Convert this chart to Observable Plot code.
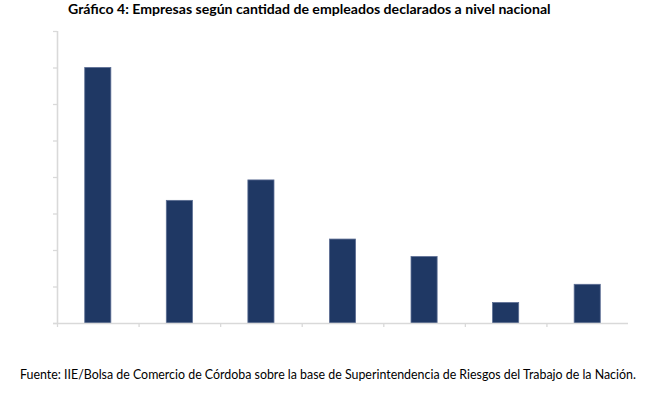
<!DOCTYPE html>
<html>
<head>
<meta charset="utf-8">
<script src="https://cdn.jsdelivr.net/npm/d3@7"></script>
<script src="https://cdn.jsdelivr.net/npm/@observablehq/plot@0.6"></script>
<style>
  body { margin: 0; background: #fff; width: 665px; height: 396px; overflow: hidden; }
  #title { height: 26px; line-height: 26px; padding-left: 68px; font: bold 14.1px Lato, sans-serif; color: #000; white-space: nowrap; }
  #chart svg { display: block; }
  #caption { height: 20px; line-height: 20px; padding-left: 20px; font: 12.4px Lato, sans-serif; color: #000; white-space: nowrap; }
</style>
</head>
<body>
<div id="title">Gráfico 4: Empresas según cantidad de empleados declarados a nivel nacional</div>
<div id="chart"></div>
<div id="caption">Fuente: IIE/Bolsa de Comercio de Córdoba sobre la base de Superintendencia de Riesgos del Trabajo de la Nación.</div>
<script>
// Categories (size of firm by declared employees; labels not shown in the reference)
const categories = ["1", "2 a 5", "6 a 10", "11 a 25", "26 a 50", "51 a 100", "Más de 100"];
// Share of firms (%)
const values = [35.0, 16.8, 19.6, 11.5, 9.1, 2.8, 5.3];
// Y tick values (labels hidden in the reference)
const yTicks = [0, 5, 10, 15, 20, 25, 30, 35, 40];

const data = categories.map((c, i) => ({category: c, index: i, value: values[i]}));
const axisColor = "#d9d9d9";

const chart = Plot.plot({
  width: 665,
  height: 341,
  marginTop: 5,
  marginBottom: 44,
  marginLeft: 57,
  marginRight: 37,
  style: {background: "#fff"},
  x: {domain: [0, categories.length], axis: null},
  y: {domain: [0, 40], axis: null},
  marks: [
    Plot.axisY({ticks: yTicks, tickFormat: () => "", tickSize: 4, stroke: axisColor, strokeWidth: 1.3, label: null}),
    Plot.axisX({ticks: d3.range(0, categories.length), tickFormat: () => "", tickSize: 4, stroke: axisColor, strokeWidth: 1.3, label: null}),
    Plot.rectY(data, {
      x1: d => d.index + 0.34,
      x2: d => d.index + 0.66,
      y1: 0,
      y2: "value",
      fill: "#1f3864",
      stroke: "#5b6d93",
      strokeWidth: 0.8
    }),
    Plot.ruleX([0], {y1: 0, y2: 40, stroke: axisColor, strokeWidth: 1.6}),
    Plot.ruleY([0], {x1: 0, x2: categories.length, stroke: axisColor, strokeWidth: 1.6, insetLeft: -4})
  ]
});
document.getElementById("chart").append(chart);
</script>
</body>
</html>
